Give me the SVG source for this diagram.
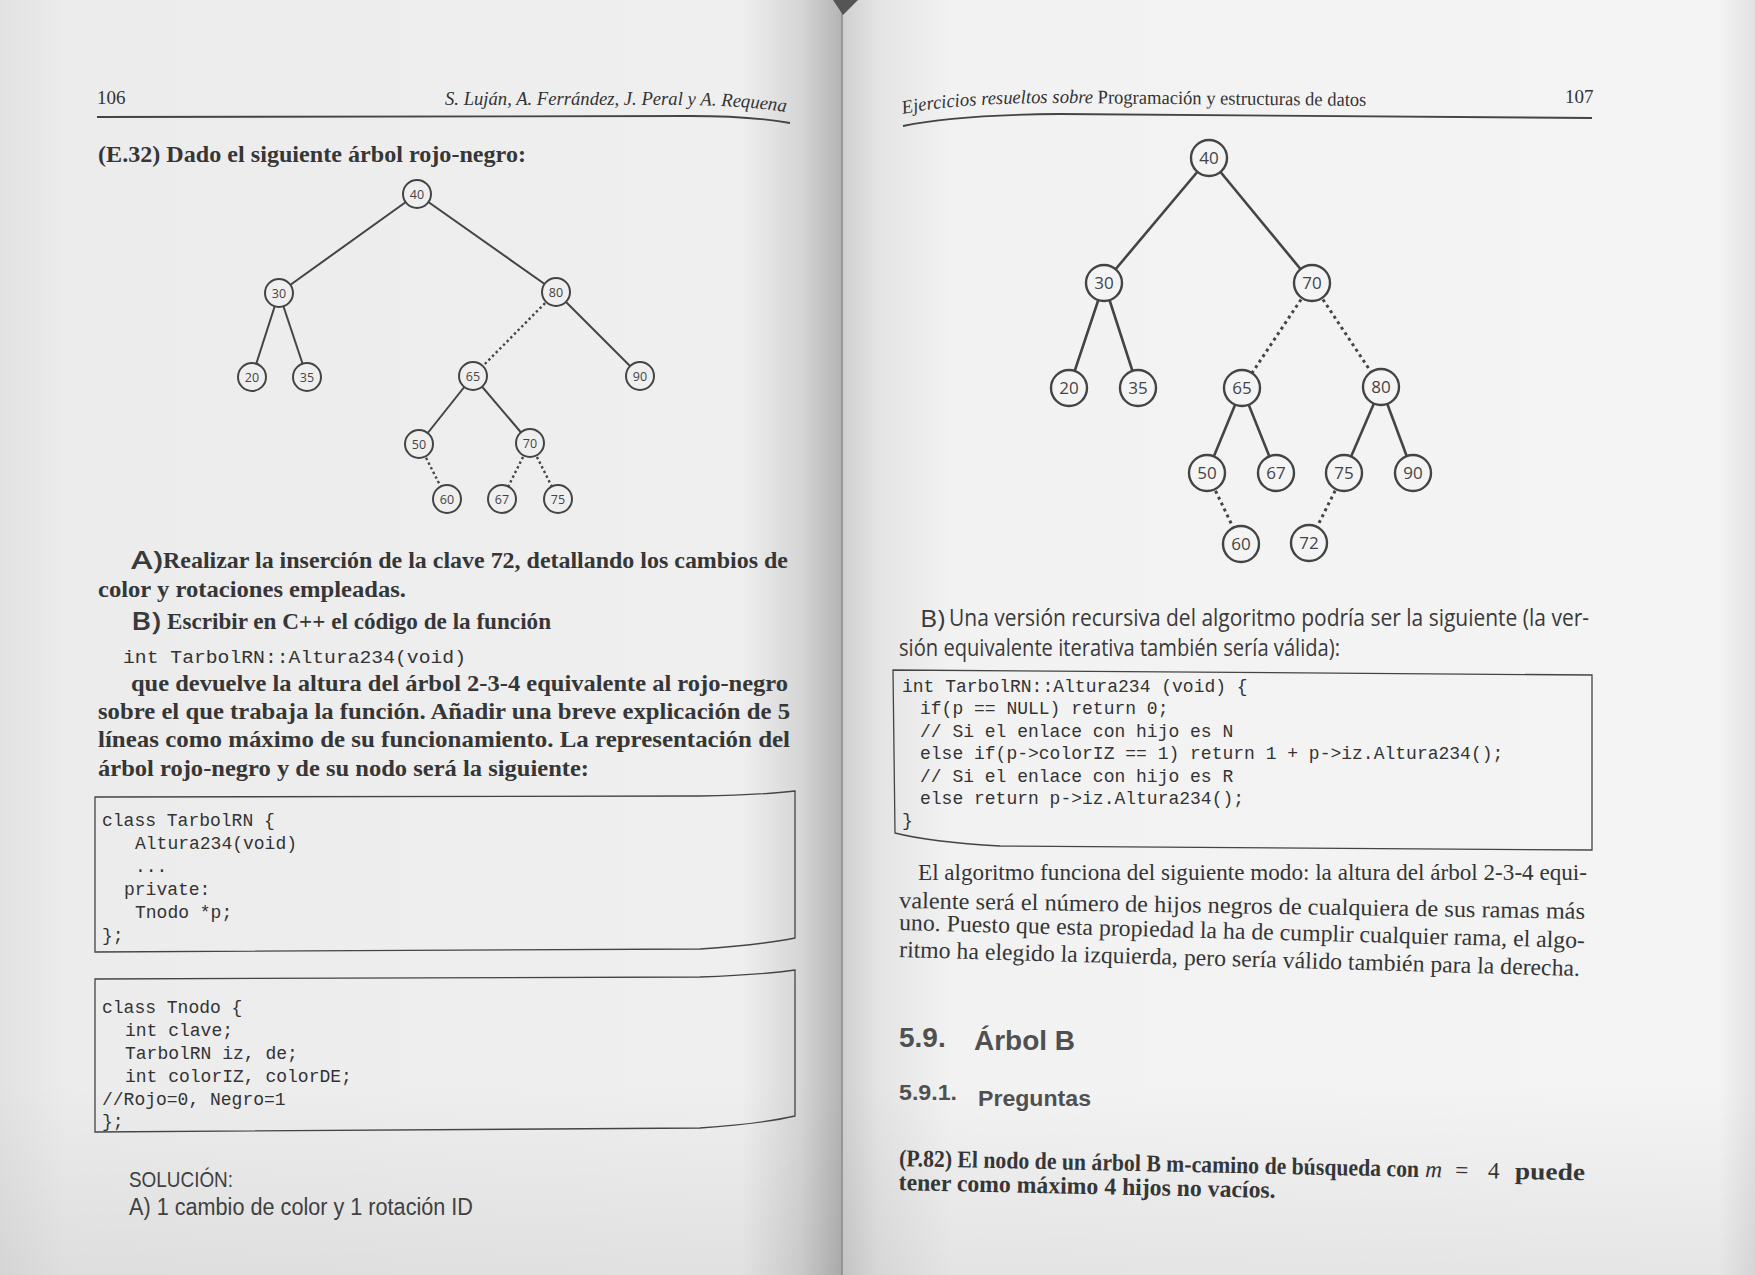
<svg xmlns="http://www.w3.org/2000/svg" width="1755" height="1275" viewBox="0 0 1755 1275">
<style>
.bold{font-family:"Liberation Serif",serif;font-weight:bold;font-size:24px;fill:#363636}
.sans{font-family:"Open Sans","Liberation Sans",sans-serif;font-weight:400;fill:#3a3a3a}
.sol{font-family:"Liberation Sans",sans-serif;font-weight:400;fill:#404040}
.lab{font-family:"Open Sans","Liberation Sans",sans-serif;font-weight:600;fill:#3a3a3a}
.mono{font-family:"Liberation Mono",monospace;font-size:18px;fill:#333}
.hdr{font-family:"Liberation Serif",serif;font-size:19px;fill:#333}
.ser{font-family:"Liberation Serif",serif;font-size:23.5px;fill:#353535}
.hd{font-family:"Liberation Sans",sans-serif;font-weight:bold;fill:#505050}
.edge{stroke:#444;fill:none}
.dotL{stroke:#444;fill:none;stroke-dasharray:2.4 2.8;stroke-width:2.4}
.dotR{stroke:#444;fill:none;stroke-dasharray:3 3.6;stroke-width:3}
.nodeL circle{fill:#efefef;stroke:#444;stroke-width:2}
.nodeR circle{fill:#f4f4f4;stroke:#444;stroke-width:2.4}
.nodeL text{font-family:"Open Sans",sans-serif;font-size:12.5px;fill:#444;text-anchor:middle}
.nodeR text{font-family:"Open Sans",sans-serif;font-size:17px;fill:#444;text-anchor:middle}
.box{fill:none;stroke:#444;stroke-width:1.3}
</style>
<defs>
<linearGradient id="gL" x1="0" y1="0" x2="1" y2="0">
<stop offset="0" stop-color="#e2e2e2"/>
<stop offset="0.08" stop-color="#ececec"/>
<stop offset="0.88" stop-color="#efefef"/>
<stop offset="0.95" stop-color="#d6d6d6"/>
<stop offset="1" stop-color="#b4b4b4"/>
</linearGradient>
<linearGradient id="gR" x1="0" y1="0" x2="1" y2="0">
<stop offset="0" stop-color="#cfcfcf"/>
<stop offset="0.04" stop-color="#e4e4e4"/>
<stop offset="0.12" stop-color="#f2f2f2"/>
<stop offset="0.96" stop-color="#f4f4f4"/>
<stop offset="1" stop-color="#e2e2e2"/>
</linearGradient>
<linearGradient id="gB" x1="0" y1="0" x2="0" y2="1">
<stop offset="0" stop-color="#000" stop-opacity="0"/>
<stop offset="0.85" stop-color="#000" stop-opacity="0"/>
<stop offset="1" stop-color="#000" stop-opacity="0.06"/>
</linearGradient>
<path id="hpL" d="M445,105 L690,105 Q750,106 792,113"/>
<path id="hpR" d="M903,114 Q955,103 1060,103 L1375,106"/>
</defs>

<!-- paper -->
<rect x="0" y="0" width="842" height="1275" fill="url(#gL)"/>
<rect x="842" y="0" width="913" height="1275" fill="url(#gR)"/>
<rect x="0" y="0" width="1755" height="1275" fill="url(#gB)"/>
<line x1="842" y1="0" x2="842" y2="1275" stroke="#8a8a8a" stroke-width="1.5"/>
<path d="M833,0 L858,0 L843,15 Z" fill="#555"/>

<!-- LEFT PAGE -->
<g id="left-header">
<text class="hdr" x="97" y="104">106</text>
<text class="hdr" font-style="italic"><textPath href="#hpL" textLength="341" lengthAdjust="spacingAndGlyphs">S. Luján, A. Ferrández, J. Peral y A. Requena</textPath></text>
<path d="M97,117 L690,116 Q750,116 790,123" stroke="#444" stroke-width="1.8" fill="none"/>
</g>

<text class="bold" x="98" y="162" font-size="24.5" textLength="428" lengthAdjust="spacingAndGlyphs">(E.32) Dado el siguiente árbol rojo-negro:</text>

<g id="tree-left">
<g id="connectors-left">
<line class="edge" stroke-width="2" x1="417" y1="194" x2="279" y2="293"/>
<line class="edge" stroke-width="2" x1="417" y1="194" x2="556" y2="292"/>
<line class="edge" stroke-width="2" x1="279" y1="293" x2="252" y2="377"/>
<line class="edge" stroke-width="2" x1="279" y1="293" x2="307" y2="377"/>
<line class="dotL" x1="556" y1="292" x2="473" y2="376"/>
<line class="edge" stroke-width="2" x1="556" y1="292" x2="640" y2="376"/>
<line class="edge" stroke-width="2" x1="473" y1="376" x2="419" y2="444"/>
<line class="edge" stroke-width="2" x1="473" y1="376" x2="530" y2="443"/>
<line class="dotL" x1="419" y1="444" x2="447" y2="499"/>
<line class="dotL" x1="530" y1="443" x2="502" y2="499"/>
<line class="dotL" x1="530" y1="443" x2="558" y2="499"/>
</g>
<g id="L40" class="nodeL"><circle cx="417" cy="194" r="14"/><text x="417" y="198.5">40</text></g>
<g id="L30" class="nodeL"><circle cx="279" cy="293" r="14"/><text x="279" y="297.5">30</text></g>
<g id="L80" class="nodeL"><circle cx="556" cy="292" r="14"/><text x="556" y="296.5">80</text></g>
<g id="L20" class="nodeL"><circle cx="252" cy="377" r="14"/><text x="252" y="381.5">20</text></g>
<g id="L35" class="nodeL"><circle cx="307" cy="377" r="14"/><text x="307" y="381.5">35</text></g>
<g id="L65" class="nodeL"><circle cx="473" cy="376" r="14"/><text x="473" y="380.5">65</text></g>
<g id="L90" class="nodeL"><circle cx="640" cy="376" r="14"/><text x="640" y="380.5">90</text></g>
<g id="L50" class="nodeL"><circle cx="419" cy="444" r="14"/><text x="419" y="448.5">50</text></g>
<g id="L70" class="nodeL"><circle cx="530" cy="443" r="14"/><text x="530" y="447.5">70</text></g>
<g id="L60" class="nodeL"><circle cx="447" cy="499" r="14"/><text x="447" y="503.5">60</text></g>
<g id="L67" class="nodeL"><circle cx="502" cy="499" r="14"/><text x="502" y="503.5">67</text></g>
<g id="L75" class="nodeL"><circle cx="558" cy="499" r="14"/><text x="558" y="503.5">75</text></g>
</g>

<g id="left-text">
<text class="lab" x="131" y="569" font-size="26" textLength="32" lengthAdjust="spacingAndGlyphs">A)</text>
<text class="bold" x="163" y="568" textLength="625" lengthAdjust="spacingAndGlyphs">Realizar la inserción de la clave 72, detallando los cambios de</text>
<text class="bold" x="98" y="597" textLength="308" lengthAdjust="spacingAndGlyphs">color y rotaciones empleadas.</text>
<text class="lab" x="131" y="630" font-size="26" textLength="30" lengthAdjust="spacingAndGlyphs">B)</text>
<text class="bold" x="167" y="629" textLength="384" lengthAdjust="spacingAndGlyphs">Escribir en C++ el código de la función</text>
<text class="mono" x="123" y="663" font-size="19.7" textLength="343" lengthAdjust="spacingAndGlyphs">int TarbolRN::Altura234(void)</text>
<text class="bold" x="131" y="691" textLength="657" lengthAdjust="spacingAndGlyphs">que devuelve la altura del árbol 2-3-4 equivalente al rojo-negro</text>
<text class="bold" x="98" y="719" textLength="692" lengthAdjust="spacingAndGlyphs">sobre el que trabaja la función. Añadir una breve explicación de 5</text>
<text class="bold" x="98" y="747" textLength="692" lengthAdjust="spacingAndGlyphs">líneas como máximo de su funcionamiento. La representación del</text>
<text class="bold" x="98" y="776" textLength="491" lengthAdjust="spacingAndGlyphs">árbol rojo-negro y de su nodo será la siguiente:</text>
</g>

<g id="code-box-1">
<path class="box" d="M95,797 L700,796 Q760,795 795,791 L795,938 Q760,945 700,949 L95,952 Z"/>
<text class="mono" x="102" y="826">class TarbolRN {</text>
<text class="mono" x="135" y="849">Altura234(void)</text>
<text class="mono" x="135" y="872">...</text>
<text class="mono" x="124" y="895">private:</text>
<text class="mono" x="135" y="918">Tnodo *p;</text>
<text class="mono" x="102" y="941">};</text>
</g>

<g id="code-box-2">
<path class="box" d="M95,979 L700,977 Q760,975 795,970 L795,1116 Q760,1124 700,1128 L95,1132 Z"/>
<text class="mono" x="102" y="1013">class Tnodo {</text>
<text class="mono" x="125" y="1036">int clave;</text>
<text class="mono" x="125" y="1059">TarbolRN iz, de;</text>
<text class="mono" x="125" y="1082">int colorIZ, colorDE;</text>
<text class="mono" x="102" y="1105">//Rojo=0, Negro=1</text>
<text class="mono" x="102" y="1127">};</text>
</g>

<g id="solution">
<text class="sol" x="129" y="1187" font-size="22" textLength="104" lengthAdjust="spacingAndGlyphs">SOLUCIÓN:</text>
<text class="sol" x="129" y="1215" font-size="23" textLength="344" lengthAdjust="spacingAndGlyphs">A) 1 cambio de color y 1 rotación ID</text>
</g>

<!-- RIGHT PAGE -->
<g id="right-header">
<text class="hdr" font-size="19.5"><textPath href="#hpR" textLength="464" lengthAdjust="spacingAndGlyphs"><tspan font-style="italic">Ejercicios resueltos sobre</tspan> Programación y estructuras de datos</textPath></text>
<text class="hdr" x="1565" y="103">107</text>
<path d="M903,126 Q955,115 1060,114 L1592,118" stroke="#444" stroke-width="1.8" fill="none"/>
</g>

<g id="tree-right">
<g id="connectors-right">
<line class="edge" stroke-width="2.6" x1="1209" y1="158" x2="1104" y2="283"/>
<line class="edge" stroke-width="2.6" x1="1209" y1="158" x2="1312" y2="283"/>
<line class="edge" stroke-width="2.6" x1="1104" y1="283" x2="1069" y2="388"/>
<line class="edge" stroke-width="2.6" x1="1104" y1="283" x2="1138" y2="388"/>
<line class="dotR" x1="1312" y1="283" x2="1242" y2="388"/>
<line class="dotR" x1="1312" y1="283" x2="1381" y2="387"/>
<line class="edge" stroke-width="2.6" x1="1242" y1="388" x2="1207" y2="473"/>
<line class="edge" stroke-width="2.6" x1="1242" y1="388" x2="1276" y2="473"/>
<line class="edge" stroke-width="2.6" x1="1381" y1="387" x2="1344" y2="473"/>
<line class="edge" stroke-width="2.6" x1="1381" y1="387" x2="1413" y2="473"/>
<line class="dotR" x1="1207" y1="473" x2="1241" y2="544"/>
<line class="dotR" x1="1344" y1="473" x2="1309" y2="543"/>
</g>
<g id="R40" class="nodeR"><circle cx="1209" cy="158" r="18"/><text x="1209" y="164">40</text></g>
<g id="R30" class="nodeR"><circle cx="1104" cy="283" r="18"/><text x="1104" y="289">30</text></g>
<g id="R70" class="nodeR"><circle cx="1312" cy="283" r="18"/><text x="1312" y="289">70</text></g>
<g id="R20" class="nodeR"><circle cx="1069" cy="388" r="18"/><text x="1069" y="394">20</text></g>
<g id="R35" class="nodeR"><circle cx="1138" cy="388" r="18"/><text x="1138" y="394">35</text></g>
<g id="R65" class="nodeR"><circle cx="1242" cy="388" r="18"/><text x="1242" y="394">65</text></g>
<g id="R80" class="nodeR"><circle cx="1381" cy="387" r="18"/><text x="1381" y="393">80</text></g>
<g id="R50" class="nodeR"><circle cx="1207" cy="473" r="18"/><text x="1207" y="479">50</text></g>
<g id="R67" class="nodeR"><circle cx="1276" cy="473" r="18"/><text x="1276" y="479">67</text></g>
<g id="R75" class="nodeR"><circle cx="1344" cy="473" r="18"/><text x="1344" y="479">75</text></g>
<g id="R90" class="nodeR"><circle cx="1413" cy="473" r="18"/><text x="1413" y="479">90</text></g>
<g id="R60" class="nodeR"><circle cx="1241" cy="544" r="18"/><text x="1241" y="550">60</text></g>
<g id="R72" class="nodeR"><circle cx="1309" cy="543" r="18"/><text x="1309" y="549">72</text></g>
</g>

<g id="right-text-b">
<text class="sans" x="920" y="627" font-size="24" textLength="25" lengthAdjust="spacingAndGlyphs">B)</text>
<text class="sans" x="949" y="626" font-size="23" textLength="640" lengthAdjust="spacingAndGlyphs">Una versión recursiva del algoritmo podría ser la siguiente (la ver-</text>
<text class="sans" x="899" y="656" font-size="23" textLength="441" lengthAdjust="spacingAndGlyphs">sión equivalente iterativa también sería válida):</text>
</g>

<g id="code-box-3">
<path class="box" d="M893,670 L1592,675 L1592,850 L1000,846 Q930,842 895,833 Z"/>
<text class="mono" x="902" y="692">int TarbolRN::Altura234 (void) {</text>
<text class="mono" x="920" y="714">if(p == NULL) return 0;</text>
<text class="mono" x="920" y="737">// Si el enlace con hijo es N</text>
<text class="mono" x="920" y="759">else if(p-&gt;colorIZ == 1) return 1 + p-&gt;iz.Altura234();</text>
<text class="mono" x="920" y="782">// Si el enlace con hijo es R</text>
<text class="mono" x="920" y="804">else return p-&gt;iz.Altura234();</text>
<text class="mono" x="902" y="826">}</text>
</g>

<g id="right-paragraph">
<text class="ser" x="918" y="880" textLength="669" lengthAdjust="spacingAndGlyphs">El algoritmo funciona del siguiente modo: la altura del árbol 2-3-4 equi-</text>
<text class="ser" x="899" y="908" transform="rotate(0.9 899 908)" textLength="686" lengthAdjust="spacingAndGlyphs">valente será el número de hijos negros de cualquiera de sus ramas más</text>
<text class="ser" x="899" y="930" transform="rotate(1.5 899 930)" textLength="686" lengthAdjust="spacingAndGlyphs">uno. Puesto que esta propiedad la ha de cumplir cualquier rama, el algo-</text>
<text class="ser" x="899" y="957" transform="rotate(1.6 899 957)" textLength="681" lengthAdjust="spacingAndGlyphs">ritmo ha elegido la izquierda, pero sería válido también para la derecha.</text>
</g>

<g id="section">
<text class="hd" x="899" y="1047" font-size="28">5.9.</text>
<text class="hd" x="974" y="1050" font-size="28" textLength="101" lengthAdjust="spacingAndGlyphs">Árbol B</text>
<text class="hd" x="899" y="1100" font-size="22" textLength="58" lengthAdjust="spacingAndGlyphs">5.9.1.</text>
<text class="hd" x="978" y="1106" font-size="22" textLength="113" lengthAdjust="spacingAndGlyphs">Preguntas</text>
</g>

<g id="question" transform="rotate(1.2 899 1166)">
<text class="bold" x="899" y="1166" textLength="520" lengthAdjust="spacingAndGlyphs">(P.82) El nodo de un árbol B m-camino de búsqueda con</text>
<text class="ser" y="1166" font-size="24"><tspan x="1425" font-style="italic">m</tspan><tspan x="1455">=</tspan><tspan x="1488">4</tspan></text>
<text class="bold" x="1515" y="1166" textLength="70" lengthAdjust="spacingAndGlyphs">puede</text>
<text class="bold" x="899" y="1190" textLength="377" lengthAdjust="spacingAndGlyphs">tener como máximo 4 hijos no vacíos.</text>
</g>
</svg>
